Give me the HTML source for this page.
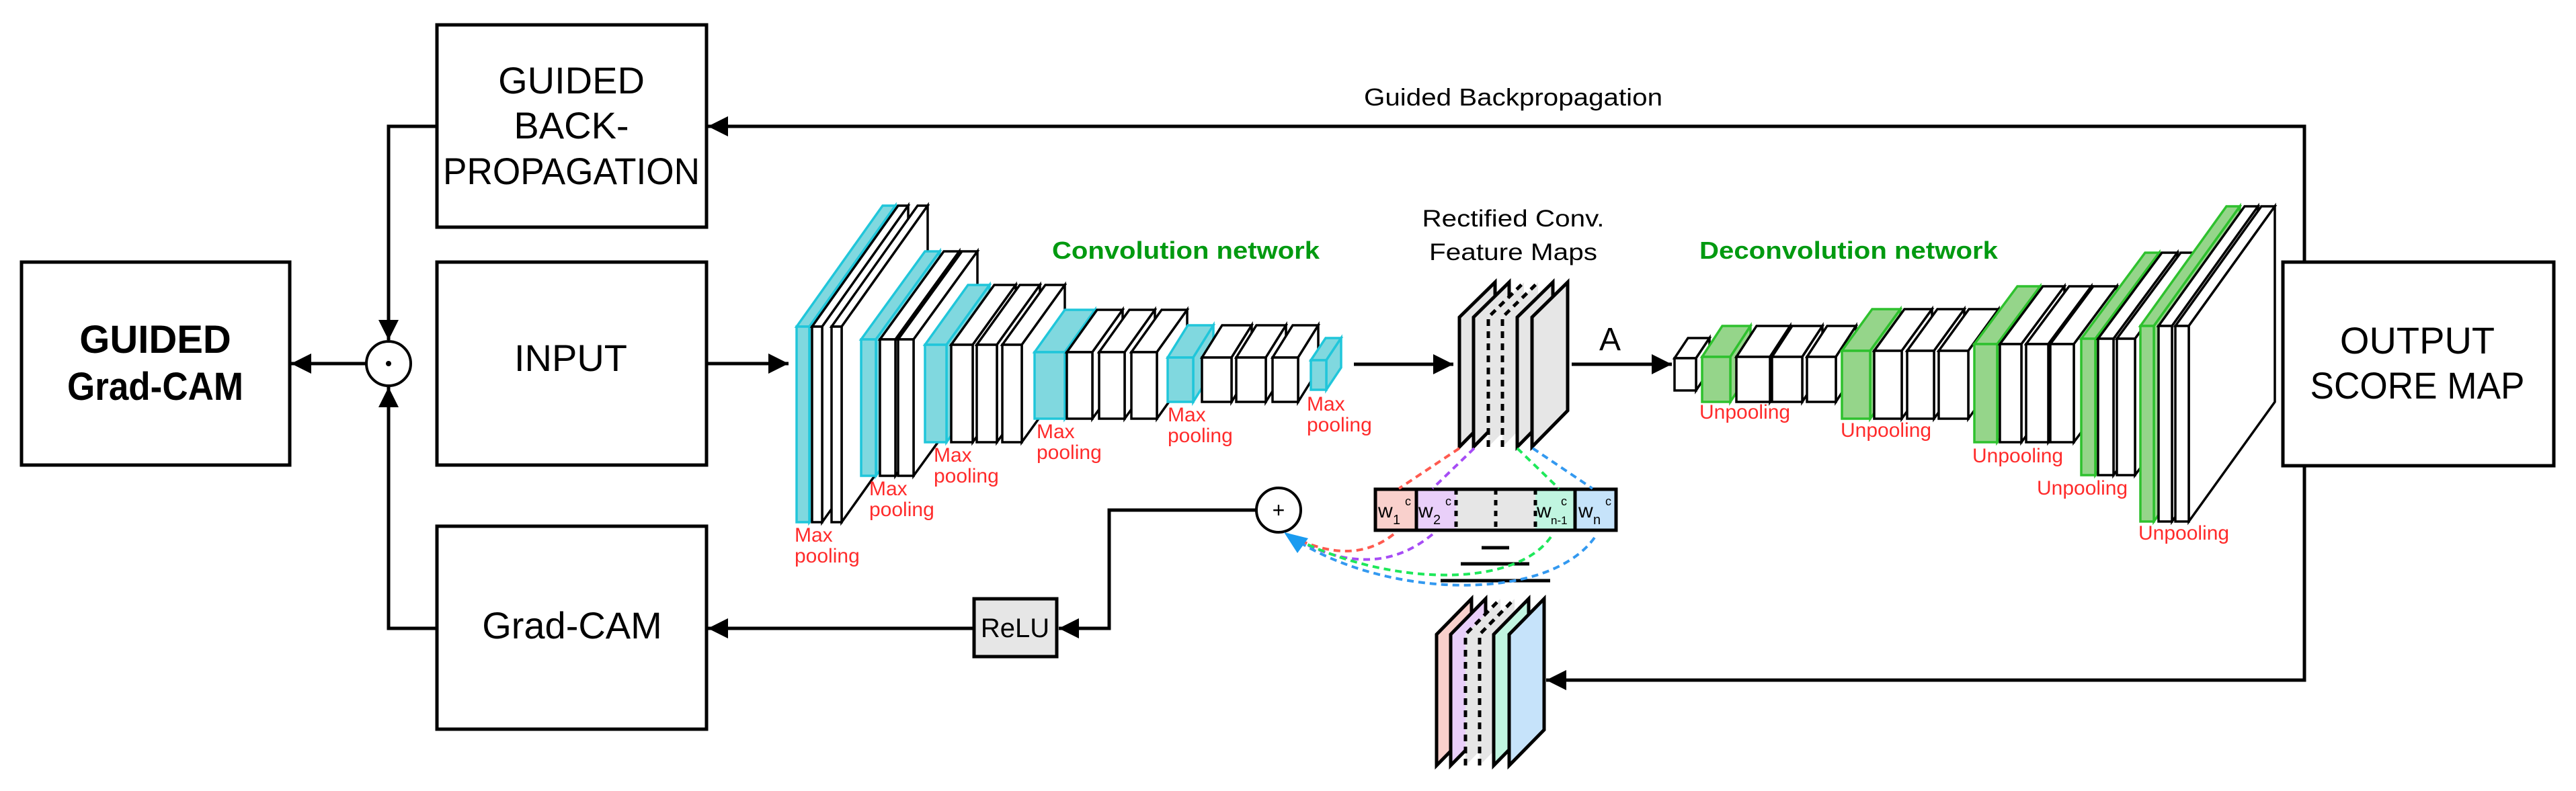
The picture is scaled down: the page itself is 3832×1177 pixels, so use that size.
<!DOCTYPE html>
<html><head><meta charset="utf-8"><style>
html,body{margin:0;padding:0;background:#fff}
svg{display:block}
text{font-family:"Liberation Sans",Arial,sans-serif}
</style></head><body>
<svg id="s" xmlns="http://www.w3.org/2000/svg" width="3832" height="1177" viewBox="0 0 3832 1177">
<defs>
<marker id="ah" viewBox="0 0 10 10" refX="10" refY="5" markerWidth="34" markerHeight="30" markerUnits="userSpaceOnUse" orient="auto"><path d="M0,0 L10,5 L0,10 z" fill="#000"/></marker>
</defs>
<rect width="3832" height="1177" fill="#fff"/>
<g id="blocks"></g>
<g fill="none" stroke="#000" stroke-width="5">
<rect x="32" y="390" width="399" height="302"/>
<rect x="650" y="37" width="401" height="301"/>
<rect x="650" y="390" width="401" height="302"/>
<rect x="650" y="783" width="401" height="302"/>
<rect x="3396" y="390" width="403" height="303"/>
</g>
<g fill="#000" text-anchor="middle">
<text x="231" y="525" font-size="58" font-weight="bold">GUIDED</text>
<text x="231" y="595" font-size="58" font-weight="bold" textLength="262" lengthAdjust="spacingAndGlyphs">Grad-CAM</text>
<text x="850" y="139" font-size="56">GUIDED</text>
<text x="850" y="206" font-size="56">BACK-</text>
<text x="850" y="274" font-size="56" textLength="382" lengthAdjust="spacingAndGlyphs">PROPAGATION</text>
<text x="849" y="552" font-size="56">INPUT</text>
<text x="851" y="950" font-size="56">Grad-CAM</text>
<text x="3596" y="526" font-size="56">OUTPUT</text>
<text x="3596" y="593" font-size="56" textLength="319" lengthAdjust="spacingAndGlyphs">SCORE MAP</text>
<text x="2251" y="157" font-size="36" textLength="444" lengthAdjust="spacingAndGlyphs">Guided Backpropagation</text>
<text x="2251" y="337" font-size="35" textLength="271" lengthAdjust="spacingAndGlyphs">Rectified Conv.</text>
<text x="2251" y="387" font-size="35" textLength="250" lengthAdjust="spacingAndGlyphs">Feature Maps</text>
<text x="2395" y="521" font-size="48">A</text>
</g>
<g fill="#009a10" font-weight="bold" font-size="36">
<text x="1565" y="385" textLength="398" lengthAdjust="spacingAndGlyphs">Convolution network</text>
<text x="2528" y="385" textLength="444" lengthAdjust="spacingAndGlyphs">Deconvolution network</text>
</g>
<g fill="#ff2b2b" font-size="30">
<text x="1182" y="806">Max</text><text x="1182" y="837">pooling</text>
<text x="1293" y="737">Max</text><text x="1293" y="768">pooling</text>
<text x="1389" y="687">Max</text><text x="1389" y="718">pooling</text>
<text x="1542" y="652">Max</text><text x="1542" y="683">pooling</text>
<text x="1737" y="627">Max</text><text x="1737" y="658">pooling</text>
<text x="1944" y="611">Max</text><text x="1944" y="642">pooling</text>
<text x="2528" y="623">Unpooling</text>
<text x="2738" y="650">Unpooling</text>
<text x="2934" y="688">Unpooling</text>
<text x="3030" y="736">Unpooling</text>
<text x="3181" y="803">Unpooling</text>
</g>
<!-- connectors -->
<g fill="none" stroke="#000" stroke-width="5">
<polyline points="3428,390 3428,188 1053,188" marker-end="url(#ah)"/>
<polyline points="650,188 578,188 578,506" marker-end="url(#ah)"/>
<polyline points="650,935 578,935 578,576" marker-end="url(#ah)"/>
<line x1="545" y1="541" x2="433" y2="541" marker-end="url(#ah)"/>
<line x1="1051" y1="541" x2="1173" y2="541" marker-end="url(#ah)"/>
<line x1="2014" y1="542" x2="2162" y2="542" marker-end="url(#ah)"/>
<line x1="2338" y1="542" x2="2487" y2="542" marker-end="url(#ah)"/>
<polyline points="1870,759 1650,759 1650,935 1575,935" marker-end="url(#ah)"/>
<line x1="1449" y1="935" x2="1053" y2="935" marker-end="url(#ah)"/>
<polyline points="3428,693 3428,1012 2300,1012" marker-end="url(#ah)"/>
</g>
<g stroke="#000" stroke-width="4" fill="#fff">
<circle cx="578" cy="541" r="33"/>
<circle cx="1902" cy="759" r="33"/>
</g>
<circle cx="578" cy="541" r="4" fill="#000"/>
<text x="1902" y="770" font-size="32" text-anchor="middle">+</text>
<rect x="1449" y="891" width="123" height="86" fill="#e6e6e6" stroke="#000" stroke-width="5"/>
<text x="1510" y="948" font-size="40" text-anchor="middle">ReLU</text>
<g id="stacks"></g>
<!-- weight bar -->
<g stroke="#000" stroke-width="5">
<rect x="2046" y="728" width="61" height="61" fill="#f9d0cc" stroke="none"/>
<rect x="2107" y="728" width="59" height="61" fill="#e9cff9" stroke="none"/>
<rect x="2166" y="728" width="118" height="61" fill="#e6e6e6" stroke="none"/>
<rect x="2284" y="728" width="59" height="61" fill="#c0f5e0" stroke="none"/>
<rect x="2343" y="728" width="61" height="61" fill="#c6e3fa" stroke="none"/>
<rect x="2046" y="728" width="358" height="61" fill="none"/>
<line x1="2107" y1="728" x2="2107" y2="789"/>
<line x1="2343" y1="728" x2="2343" y2="789"/>
<g stroke-dasharray="8 8"><line x1="2166" y1="728" x2="2166" y2="789"/><line x1="2225" y1="728" x2="2225" y2="789"/><line x1="2284" y1="728" x2="2284" y2="789"/></g>
<line x1="2204" y1="815" x2="2245" y2="815"/>
<line x1="2173" y1="839" x2="2275" y2="839"/>
<line x1="2143" y1="864" x2="2306" y2="864"/>
</g>
<g font-size="30" fill="#000">
<text x="2050" y="770">w</text><text x="2072" y="780" font-size="20">1</text><text x="2090" y="752" font-size="18">c</text>
<text x="2110" y="770">w</text><text x="2132" y="780" font-size="20">2</text><text x="2150" y="752" font-size="18">c</text>
<text x="2286" y="770">w</text><text x="2307" y="780" font-size="17">n-1</text><text x="2322" y="752" font-size="18">c</text>
<text x="2348" y="770">w</text><text x="2370" y="780" font-size="20">n</text><text x="2388" y="752" font-size="18">c</text>
</g>
<!-- dashed curves -->
<g fill="none" stroke-width="4" stroke-dasharray="10 7">
<path d="M2171,667 L2081,727" stroke="#ff5a4f"/>
<path d="M2193,667 L2131,727" stroke="#a64cf5"/>
<path d="M2257,667 L2319,727" stroke="#1ee85a"/>
<path d="M2280,667 L2369,727" stroke="#3399f0"/>
<path d="M2073,795 Q2010,845 1915,795" stroke="#ff5a4f"/>
<path d="M2131,795 Q2040,870 1915,795" stroke="#a64cf5"/>
<path d="M2307,799 C2250,880 2050,870 1915,795" stroke="#1ee85a"/>
<path d="M2372,800 C2300,900 2050,890 1915,795" stroke="#3399f0"/>
</g>
<polygon points="1910,792 1946,801 1930,823" fill="#1a9bf0"/>
<script>
(function(){
var NS="http://www.w3.org/2000/svg";
var g=document.getElementById('blocks');
function poly(pts,fill,stroke,sw,dash){var p=document.createElementNS(NS,'polygon');p.setAttribute('points',pts.map(function(a){return a.join(',')}).join(' '));p.setAttribute('fill',fill);p.setAttribute('stroke',stroke);p.setAttribute('stroke-width',sw);p.setAttribute('stroke-linejoin','miter');if(dash)p.setAttribute('stroke-dasharray',dash);return p;}
function pl(pts){var l=document.createElementNS(NS,'polyline');l.setAttribute('points',pts.map(function(a){return a.join(',')}).join(' '));l.setAttribute('fill','none');l.setAttribute('stroke','#000');l.setAttribute('stroke-width','5');l.setAttribute('stroke-dasharray','10 8');return l;}
var C={c:['#80d8df','#20c6da'],g:['#95d58a','#2ec12e'],w:['#fff','#000']};
function slab(par,x,w,y,h,dx,dy,t){var f=C[t][0],s=C[t][1],sw=3.5;
par.appendChild(poly([[x,y],[x+dx,y+dy],[x+w+dx,y+dy],[x+w,y]],f,s,sw));
par.appendChild(poly([[x+w,y],[x+w+dx,y+dy],[x+w+dx,y+h+dy],[x+w,y+h]],f,s,sw));
par.appendChild(poly([[x,y],[x+w,y],[x+w,y+h],[x,y+h]],f,s,sw));}
var B=[
[486,291,128,-180,[[1185,19,'c'],[1208,15,'w'],[1237,15,'w']]],
[505,203,95,-131,[[1281,22,'c'],[1309,23,'w'],[1336,23,'w']]],
[513,145,64,-89,[[1376,32,'c'],[1415,32,'w'],[1453,30,'w'],[1491,29,'w']]],
[524,99,45,-63,[[1539,45,'c'],[1587,38,'w'],[1635,38,'w'],[1683,38,'w']]],
[532,66,30,-48,[[1737,38,'c'],[1788,44,'w'],[1839,44,'w'],[1893,38,'w']]],
[536,44,22,-33,[[1950,23,'c']]],
[533,48,20,-30,[[2491,32,'w']]],
[531,67,30,-46,[[2532,42,'g'],[2583,50,'w'],[2636,45,'w'],[2688,43,'w']]],
[522,101,45,-62,[[2740,42,'g'],[2788,41,'w'],[2837,40,'w'],[2884,44,'w']]],
[512,146,64,-86,[[2937,34,'g'],[2975,32,'w'],[3014,33,'w'],[3050,35,'w']]],
[504,203,95,-128,[[3096,21,'g'],[3121,23,'w'],[3149,27,'w']]],
[485,291,128,-178,[[3184,20,'g'],[3211,20,'w'],[3236,20,'w']]]
];
B.forEach(function(b){b[4].forEach(function(s){slab(g,s[0],s[1],b[0],b[1],b[2],b[3],s[2]);});});
var st=document.getElementById('stacks');
function stack(xs,cols,yTL,yTR,yBR,yBL,w){xs.forEach(function(x,i){var d=(i==2||i==3);
st.appendChild(poly([[x,yTL],[x+w,yTR],[x+w,yBR],[x,yBL]],cols[i],d?'none':'#000',5,null));
if(d){st.appendChild(pl([[x,yBL],[x,yTL],[x+w,yTR]]));}
});}
var gr='#e6e6e6';
stack([2171,2192,2214,2235,2257,2279],[gr,gr,gr,gr,gr,gr],472,420,611,665,53);
stack([2137,2158,2180,2201,2222,2245],['#f9d0cc','#e9cff9',gr,gr,'#c0f5e0','#c6e3fa'],944,891,1086,1139,52);
})();
</script>
</svg>
</body></html>
